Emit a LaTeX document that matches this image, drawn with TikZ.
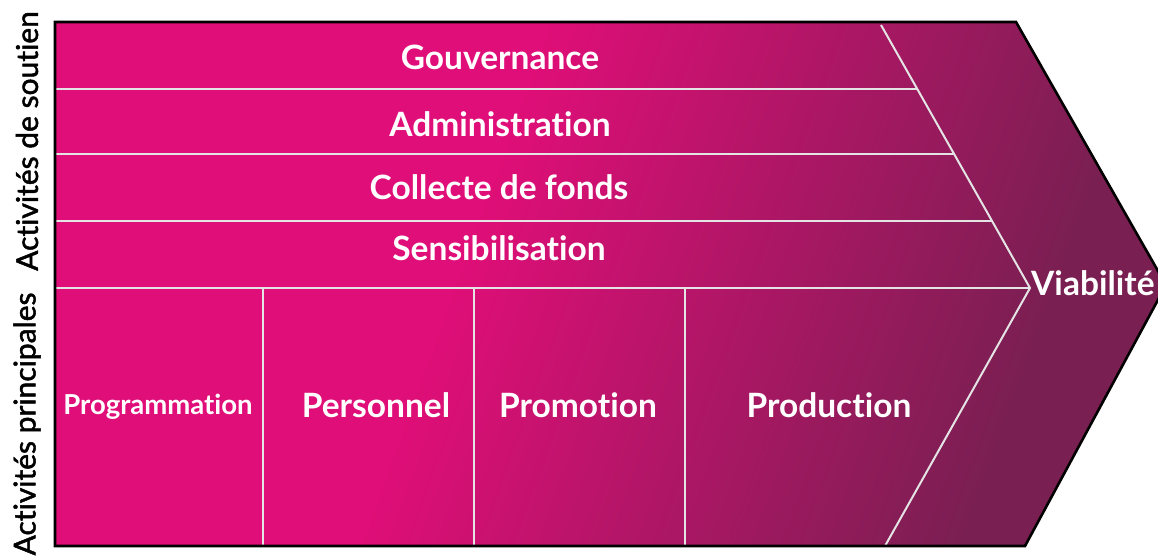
\documentclass[tikz,border=0pt]{standalone}
\usepackage{fontspec}
\setmainfont[Ligatures=NoCommon]{Lato}
\newfontfamily\sidefont[Ligatures=NoCommon,FakeBold=1.6]{Lato}
\definecolor{pk}{HTML}{E00E78}
\definecolor{dk}{HTML}{7A1F52}
\definecolor{ln}{HTML}{E4E4E4}
\pgfdeclarehorizontalshading{vcshade}{100bp}{color(0bp)=(pk); color(42bp)=(pk); color(72bp)=(dk); color(100bp)=(dk)}
\begin{document}
\begin{tikzpicture}[x=1pt,y=-1pt,
  lbl/.style={text=white,font=\bfseries\fontsize{33.5}{34}\selectfont,inner sep=0pt},
  lblsm/.style={text=white,font=\bfseries\fontsize{27.5}{28}\selectfont,inner sep=0pt},
  side/.style={text=black,font=\sidefont\fontsize{30}{31}\selectfont,rotate=90,inner sep=0pt},
  sep/.style={draw=ln,line width=2pt}]
\useasboundingbox (0,0) rectangle (1158,555);
\coordinate (tl) at (55,22);
\coordinate (tr) at (1016,22);
\coordinate (tip) at (1166,285);
\coordinate (br) at (1025,546);
\coordinate (bl) at (55,546);
\shade[shading=vcshade, shading angle=-20] (tl) -- (tr) -- (tip) -- (br) -- (bl) -- cycle;
% chevron separator
\coordinate (c0) at (881,25);
\coordinate (cm) at (1030,288);
\coordinate (c1) at (885,546);
\draw[sep] (c0) -- (cm) -- (c1);
% horizontal separators
\coordinate (h1) at (55,89);  \coordinate (h1e) at (917.3,89);
\coordinate (h2) at (55,154); \coordinate (h2e) at (954.1,154);
\coordinate (h3) at (55,221); \coordinate (h3e) at (992,221);
\coordinate (h4) at (55,288);
\draw[sep] (h1) -- (h1e);
\draw[sep] (h2) -- (h2e);
\draw[sep] (h3) -- (h3e);
\draw[sep] (h4) -- (cm);
% vertical separators
\coordinate (v1) at (263,288); \coordinate (v1e) at (263,546);
\coordinate (v2) at (474,288); \coordinate (v2e) at (474,546);
\coordinate (v3) at (685,288); \coordinate (v3e) at (685,546);
\draw[sep] (v1) -- (v1e);
\draw[sep] (v2) -- (v2e);
\draw[sep] (v3) -- (v3e);
% outline
\draw[black,line width=2.6pt,line join=miter] (tl) -- (tr) -- (tip) -- (br) -- (bl) -- cycle;
% labels
\node[lbl] (gov) at (500,57) {Gouvernance};
\node[lbl] (adm) at (500,124) {Administration};
\node[lbl] (col) at (499,187) {Collecte de fonds};
\node[lbl] (sen) at (499,248) {Sensibilisation};
\node[lblsm] (prog) at (158,407) {Programmation};
\node[lbl] (pers) at (376,405) {Personnel};
\node[lbl] (prom) at (578,405) {Promotion};
\node[lbl] (prod) at (829,405) {Production};
\node[lbl,anchor=west] (via) at (1031,283) {Viabilité};
\node[side] (sout) at (27,141) {Activités de soutien};
\node[side] (princ) at (27,424) {Activités principales};
\end{tikzpicture}
\end{document}
